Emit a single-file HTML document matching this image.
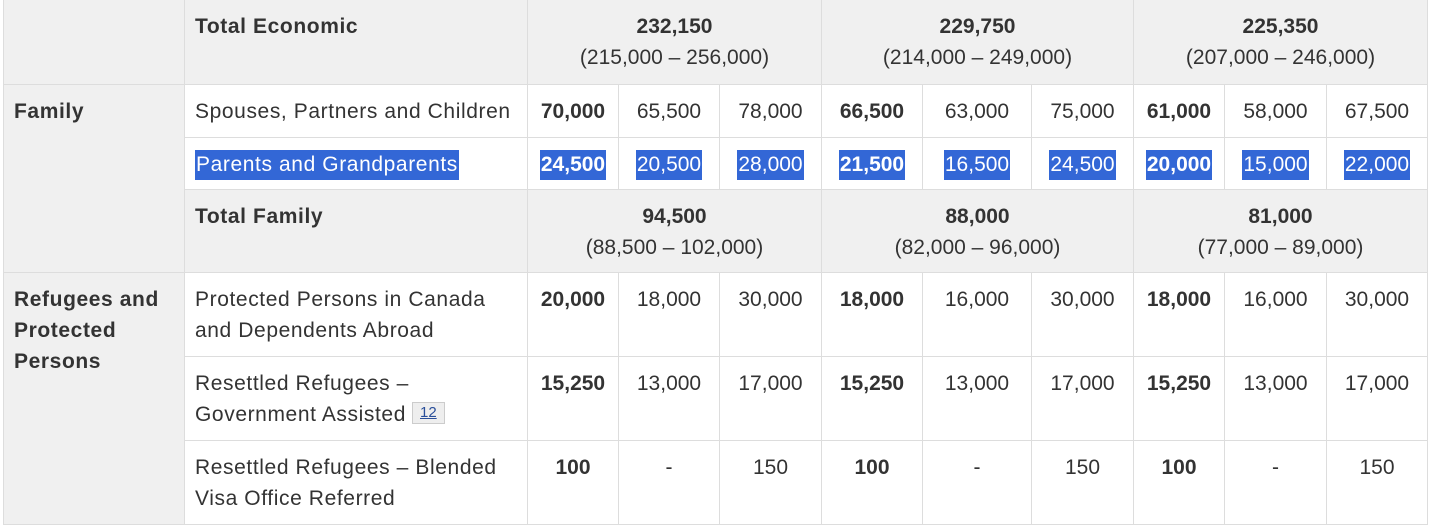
<!DOCTYPE html>
<html><head><meta charset="utf-8"><style>
body{margin:0;background:#fff;width:1429px;height:505px;overflow:hidden;font-family:"Liberation Sans","DejaVu Sans",sans-serif;color:#333;}
table{position:absolute;left:3px;top:-1px;border-collapse:collapse;table-layout:fixed;font-size:21px;line-height:31px;}
td{border:1px solid #ddd;padding:11px 8px 0 10px;vertical-align:top;overflow:hidden;white-space:nowrap;}
td.l{letter-spacing:0.6px;}
td.n{text-align:center;padding-left:2px;padding-right:2px;}
.g{background:#f0f0f0;}
b{font-weight:bold;color:#333}
.s{background:#3367d6;color:#fff;display:inline-block;line-height:30px;padding:0 1px;}
.s b{color:#fff}
.fn{display:inline-block;font-size:15px;line-height:20px;padding:0 7px;background:#eee;border:1px solid #ccc;color:#2a4f9a;text-decoration:underline;vertical-align:4px;margin-left:6px;letter-spacing:0}
</style></head><body>
<table>
<colgroup><col style="width:181px"><col style="width:343px"><col style="width:91px"><col style="width:101px"><col style="width:102px"><col style="width:101px"><col style="width:109px"><col style="width:102px"><col style="width:91px"><col style="width:102px"><col style="width:101px"></colgroup>
<tr style="height:85px"><td class="g"></td><td class="g l"><b>Total Economic</b></td><td class="g n" colspan="3"><b>232,150</b><br>(215,000 – 256,000)</td><td class="g n" colspan="3"><b>229,750</b><br>(214,000 – 249,000)</td><td class="g n" colspan="3"><b>225,350</b><br>(207,000 – 246,000)</td></tr>
<tr style="height:53px"><td class="g l" rowspan="3"><b>Family</b></td><td class="l">Spouses, Partners and Children</td><td class="n"><b>70,000</b></td><td class="n">65,500</td><td class="n">78,000</td><td class="n"><b>66,500</b></td><td class="n">63,000</td><td class="n">75,000</td><td class="n"><b>61,000</b></td><td class="n">58,000</td><td class="n">67,500</td></tr>
<tr style="height:52px"><td class="l"><span class="s">Parents and Grandparents</span></td><td class="n"><span class="s"><b>24,500</b></span></td><td class="n"><span class="s">20,500</span></td><td class="n"><span class="s">28,000</span></td><td class="n"><span class="s"><b>21,500</b></span></td><td class="n"><span class="s">16,500</span></td><td class="n"><span class="s">24,500</span></td><td class="n"><span class="s"><b>20,000</b></span></td><td class="n"><span class="s">15,000</span></td><td class="n"><span class="s">22,000</span></td></tr>
<tr style="height:83px"><td class="g l"><b>Total Family</b></td><td class="g n" colspan="3"><b>94,500</b><br>(88,500 – 102,000)</td><td class="g n" colspan="3"><b>88,000</b><br>(82,000 – 96,000)</td><td class="g n" colspan="3"><b>81,000</b><br>(77,000 – 89,000)</td></tr>
<tr style="height:84px"><td class="g l" rowspan="3" style="white-space:normal"><b>Refugees and Protected Persons</b></td><td class="l">Protected Persons in Canada<br>and Dependents Abroad</td><td class="n"><b>20,000</b></td><td class="n">18,000</td><td class="n">30,000</td><td class="n"><b>18,000</b></td><td class="n">16,000</td><td class="n">30,000</td><td class="n"><b>18,000</b></td><td class="n">16,000</td><td class="n">30,000</td></tr>
<tr style="height:84px"><td class="l">Resettled Refugees –<br>Government Assisted<span class="fn">12</span></td><td class="n"><b>15,250</b></td><td class="n">13,000</td><td class="n">17,000</td><td class="n"><b>15,250</b></td><td class="n">13,000</td><td class="n">17,000</td><td class="n"><b>15,250</b></td><td class="n">13,000</td><td class="n">17,000</td></tr>
<tr style="height:84px"><td class="l">Resettled Refugees – Blended<br>Visa Office Referred</td><td class="n"><b>100</b></td><td class="n">-</td><td class="n">150</td><td class="n"><b>100</b></td><td class="n">-</td><td class="n">150</td><td class="n"><b>100</b></td><td class="n">-</td><td class="n">150</td></tr>
</table>
</body></html>
